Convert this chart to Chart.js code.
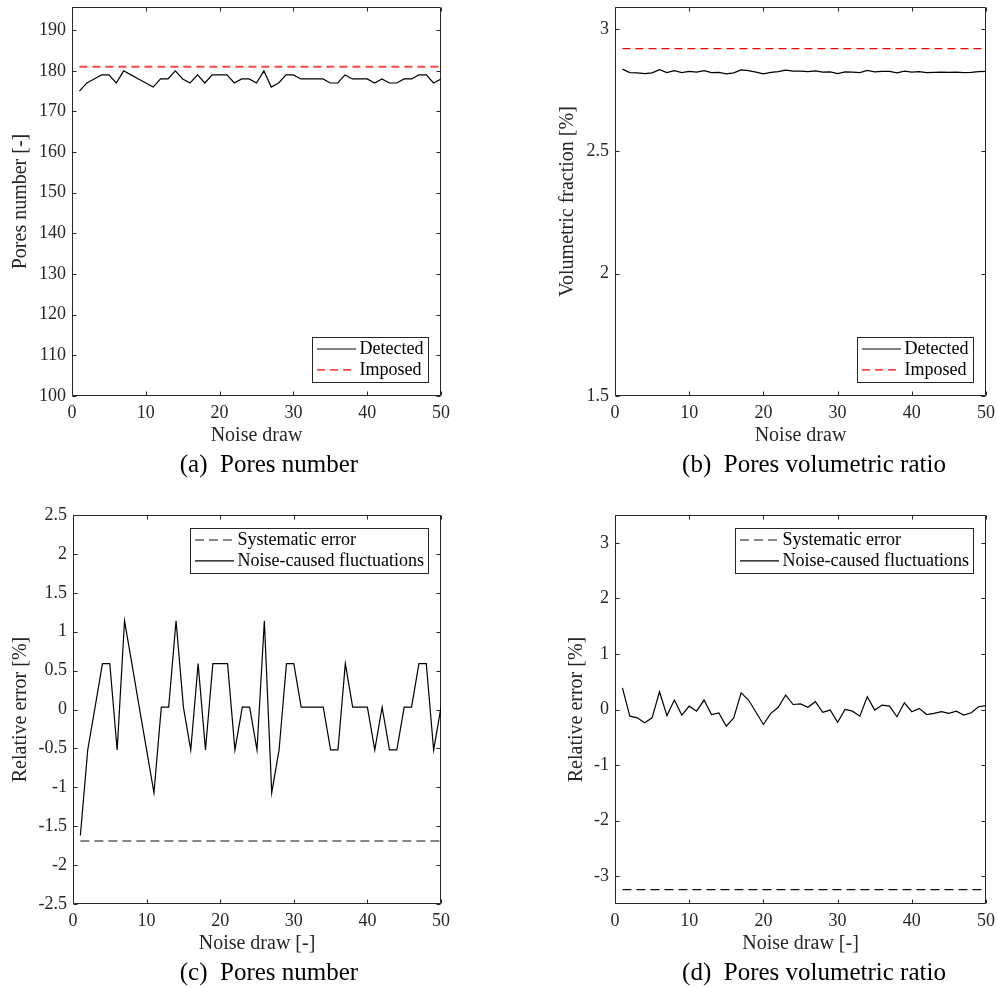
<!DOCTYPE html>
<html>
<head>
<meta charset="utf-8">
<script src="https://cdn.jsdelivr.net/npm/chart.js@4.4.1/dist/chart.umd.min.js"></script>
<style>
  html, body { margin: 0; padding: 0; background: #fff; }
  #fig { position: relative; width: 997px; height: 987px; overflow: hidden; }
  canvas { position: absolute; }
  .caption {
    position: absolute; width: 420px; text-align: center;
    font-family: "Liberation Serif", serif; font-size: 25px; line-height: 30px;
    color: #000; white-space: pre;
  }
</style>
</head>
<body>
<div id="fig">
  <canvas id="chart-a" width="454" height="452" style="left:0px;top:0px"></canvas>
  <canvas id="chart-b" width="454" height="452" style="left:543px;top:0px"></canvas>
  <canvas id="chart-c" width="454" height="470" style="left:0px;top:490px"></canvas>
  <canvas id="chart-d" width="454" height="470" style="left:543px;top:490px"></canvas>
  <div class="caption" style="left:59px;top:449px">(a)  Pores number</div>
  <div class="caption" style="left:604px;top:449px">(b)  Pores volumetric ratio</div>
  <div class="caption" style="left:59px;top:957px">(c)  Pores number</div>
  <div class="caption" style="left:604px;top:957px">(d)  Pores volumetric ratio</div>
</div>
<script>
// data

const noiseDraw = [1, 2, 3, 4, 5, 6, 7, 8, 9, 10, 11, 12, 13, 14, 15, 16, 17, 18, 19, 20,
  21, 22, 23, 24, 25, 26, 27, 28, 29, 30, 31, 32, 33, 34, 35, 36, 37, 38, 39, 40,
  41, 42, 43, 44, 45, 46, 47, 48, 49, 50];

const poresDetected = [175, 177, 178, 179, 179, 177, 180, 179, 178, 177, 176, 178, 178, 180, 178, 177, 179, 177, 179, 179,
  179, 177, 178, 178, 177, 180, 176, 177, 179, 179, 178, 178, 178, 178, 177, 177, 179, 178, 178, 178,
  177, 178, 177, 177, 178, 178, 179, 179, 177, 178];
const poresImposed = 181;

const volDetected = [2.836, 2.822, 2.821, 2.818, 2.821, 2.834, 2.822, 2.830, 2.822, 2.827,
  2.824, 2.830, 2.822, 2.823, 2.817, 2.821, 2.833, 2.830, 2.824, 2.817,
  2.823, 2.826, 2.832, 2.828, 2.828, 2.826, 2.829, 2.824, 2.825, 2.818,
  2.825, 2.824, 2.822, 2.831, 2.825, 2.827, 2.827, 2.821, 2.828, 2.824,
  2.826, 2.822, 2.823, 2.824, 2.823, 2.824, 2.822, 2.823, 2.826, 2.827];
const volImposed = 2.92;

const poresError = [-1.62, -0.52, 0.03, 0.59, 0.59, -0.52, 1.14, 0.59, 0.03, -0.52, -1.07, 0.03, 0.03, 1.14, 0.03, -0.52, 0.59, -0.52, 0.59, 0.59,
  0.59, -0.52, 0.03, 0.03, -0.52, 1.14, -1.07, -0.52, 0.59, 0.59, 0.03, 0.03, 0.03, 0.03, -0.52, -0.52, 0.59, 0.03, 0.03, 0.03,
  -0.52, 0.03, -0.52, -0.52, 0.03, 0.03, 0.59, 0.59, -0.52, 0.03];
const poresSystematic = -1.69;

const volError = [0.39, -0.12, -0.15, -0.24, -0.15, 0.32, -0.11, 0.17, -0.10, 0.06,
  -0.03, 0.17, -0.09, -0.06, -0.30, -0.15, 0.30, 0.17, -0.05, -0.27,
  -0.07, 0.04, 0.26, 0.09, 0.10, 0.04, 0.14, -0.05, -0.01, -0.23,
  0.00, -0.03, -0.12, 0.23, -0.01, 0.08, 0.06, -0.13, 0.12, -0.04,
  0.02, -0.09, -0.07, -0.04, -0.07, -0.03, -0.10, -0.06, 0.05, 0.07];
const volSystematic = -3.24;

const xTicks = [0, 10, 20, 30, 40, 50];
const yTicksA = [100, 110, 120, 130, 140, 150, 160, 170, 180, 190];
const yTicksB = [1.5, 2, 2.5, 3];
const yTicksC = [-2.5, -2, -1.5, -1, -0.5, 0, 0.5, 1, 1.5, 2, 2.5];
const yTicksD = [-3, -2, -1, 0, 1, 2, 3];


// style

const FONT = '"Liberation Serif", serif';
const AXIS_COLOR = '#262626';
const TICK_LEN = 4;

Chart.defaults.font.family = FONT;
Chart.defaults.color = AXIS_COLOR;

function points(xs, ys){
  return xs.map((x, i) => ({x: x, y: ys[i]}));
}

function flat_line(xs, value){
  return [{x: xs[0], y: value}, {x: xs[xs.length - 1], y: value}];
}

/**
 * Box round the plot area with inward ticks on all four sides, like MATLAB.
 */
const matlabAxes = {
  id: 'matlabAxes',
  beforeDatasetsDraw(chart){
    const {ctx, chartArea: a, scales: {x, y}} = chart;
    const l = Math.round(a.left) + 0.5, r = Math.round(a.right) - 0.5;
    const t = Math.round(a.top) + 0.5, b = Math.round(a.bottom) - 0.5;
    ctx.save();
    ctx.strokeStyle = AXIS_COLOR;
    ctx.lineWidth = 1;
    ctx.beginPath();
    ctx.rect(l, t, r - l, b - t);
    x.ticks.forEach(tk => {
      const px = Math.round(x.getPixelForValue(tk.value)) + 0.5;
      ctx.moveTo(px, b); ctx.lineTo(px, b - TICK_LEN);
      ctx.moveTo(px, t); ctx.lineTo(px, t + TICK_LEN);
    });
    y.ticks.forEach(tk => {
      const py = Math.round(y.getPixelForValue(tk.value)) + 0.5;
      ctx.moveTo(l, py); ctx.lineTo(l + TICK_LEN, py);
      ctx.moveTo(r, py); ctx.lineTo(r - TICK_LEN, py);
    });
    ctx.stroke();
    ctx.restore();
  }
};

/**
 * Legend drawn as a framed box inside the plot area.
 */
const boxLegend = {
  id: 'boxLegend',
  afterDraw(chart, args, opts){
    const {ctx, chartArea: a} = chart;
    const sets = chart.data.datasets;
    ctx.save();
    ctx.font = `18px ${FONT}`;
    const textW = Math.max(...sets.map(d => ctx.measureText(d.label).width));
    const w = Math.round(4.5 + 39 + 3.5 + textW + 5);
    const h = 45;
    const x0 = Math.round(a.right - 13 - w) + 0.5;
    const y0 = Math.round(opts.corner === 'top' ? a.top + 13 : a.bottom - 14 - h) + 0.5;
    ctx.fillStyle = '#fff';
    ctx.fillRect(x0, y0, w, h);
    ctx.strokeStyle = AXIS_COLOR;
    ctx.lineWidth = 1;
    ctx.strokeRect(x0, y0, w, h);
    sets.forEach((d, i) => {
      const yy = y0 + 11.5 + i * 20.8;
      ctx.beginPath();
      ctx.strokeStyle = d.borderColor;
      ctx.lineWidth = d.borderWidth;
      ctx.setLineDash(d.borderDash || []);
      ctx.moveTo(x0 + 4.5, yy);
      ctx.lineTo(x0 + 43.5, yy);
      ctx.stroke();
      ctx.setLineDash([]);
      ctx.fillStyle = '#000';
      ctx.textBaseline = 'middle';
      ctx.fillText(d.label, x0 + 47, yy);
    });
    ctx.restore();
  }
};

Chart.register(matlabAxes, boxLegend);


function render_panel(id, p){
  const ctx = document.getElementById(id).getContext('2d');
  return new Chart(ctx, {
    type: 'line',
    data: {datasets: p.datasets},
    options: {
      responsive: false,
      animation: false,
      layout: {padding: p.padding},
      elements: {point: {radius: 0}, line: {tension: 0}},
      plugins: {
        legend: {display: false},
        tooltip: {enabled: false},
        boxLegend: {corner: p.legendCorner}
      },
      scales: {
        x: {
          type: 'linear',
          min: 0,
          max: 50,
          afterBuildTicks: s => { s.ticks = xTicks.map(v => ({value: v})); },
          afterFit: s => { s.height = 56; s.paddingLeft = 0; s.paddingRight = 0; },
          grid: {display: false, drawTicks: false},
          border: {display: false},
          ticks: {padding: 6, font: {size: 18}, color: AXIS_COLOR, maxRotation: 0, callback: v => String(v)},
          title: {display: true, text: p.xTitle, font: {size: 20}, color: AXIS_COLOR, padding: {top: 0, bottom: 4}}
        },
        y: {
          type: 'linear',
          min: p.yMin,
          max: p.yMax,
          afterBuildTicks: s => { s.ticks = p.yTicks.map(v => ({value: v})); },
          afterFit: s => { s.width = p.yWidth; s.paddingTop = 0; s.paddingBottom = 0; },
          grid: {display: false, drawTicks: false},
          border: {display: false},
          ticks: {padding: 6, font: {size: 18}, color: AXIS_COLOR, callback: v => String(v)},
          title: {display: true, text: p.yTitle, font: {size: 20}, color: AXIS_COLOR, padding: {top: p.yTitlePad, bottom: 0}}
        }
      }
    }
  });
}


render_panel('chart-a', {
  padding: {top: 7, right: 13, left: 0, bottom: 0},
  yWidth: 72, yTitlePad: 9,
  yMin: 100, yMax: 195.7, yTicks: yTicksA,
  xTitle: 'Noise draw', yTitle: 'Pores number [-]',
  legendCorner: 'bottom',
  datasets: [
    {label: 'Detected', data: points(noiseDraw, poresDetected), borderColor: '#000', borderWidth: 1.2},
    {label: 'Imposed', data: flat_line(noiseDraw, poresImposed), borderColor: 'rgba(255,40,40,0.85)', borderWidth: 1.8, borderDash: [8, 5]}
  ]
});

render_panel('chart-b', {
  padding: {top: 7, right: 11, left: 0, bottom: 0},
  yWidth: 72, yTitlePad: 13,
  yMin: 1.5, yMax: 3.09, yTicks: yTicksB,
  xTitle: 'Noise draw', yTitle: 'Volumetric fraction [%]',
  legendCorner: 'bottom',
  datasets: [
    {label: 'Detected', data: points(noiseDraw, volDetected), borderColor: '#000', borderWidth: 1.2},
    {label: 'Imposed', data: flat_line(noiseDraw, volImposed), borderColor: '#ff0000', borderWidth: 1.2, borderDash: [8, 5]}
  ]
});

render_panel('chart-c', {
  padding: {top: 25, right: 13, left: 0, bottom: 0},
  yWidth: 73, yTitlePad: 9,
  yMin: -2.5, yMax: 2.5, yTicks: yTicksC,
  xTitle: 'Noise draw [-]', yTitle: 'Relative error [%]',
  legendCorner: 'top',
  datasets: [
    {label: 'Systematic error', data: flat_line(noiseDraw, poresSystematic), borderColor: '#111', borderWidth: 1.2, borderDash: [9, 5]},
    {label: 'Noise-caused fluctuations', data: points(noiseDraw, poresError), borderColor: '#000', borderWidth: 1.2}
  ]
});

render_panel('chart-d', {
  padding: {top: 25, right: 11, left: 0, bottom: 0},
  yWidth: 72, yTitlePad: 22,
  yMin: -3.5, yMax: 3.5, yTicks: yTicksD,
  xTitle: 'Noise draw [-]', yTitle: 'Relative error [%]',
  legendCorner: 'top',
  datasets: [
    {label: 'Systematic error', data: flat_line(noiseDraw, volSystematic), borderColor: '#111', borderWidth: 1.2, borderDash: [9, 5]},
    {label: 'Noise-caused fluctuations', data: points(noiseDraw, volError), borderColor: '#000', borderWidth: 1.2}
  ]
});
</script>
</body>
</html>
